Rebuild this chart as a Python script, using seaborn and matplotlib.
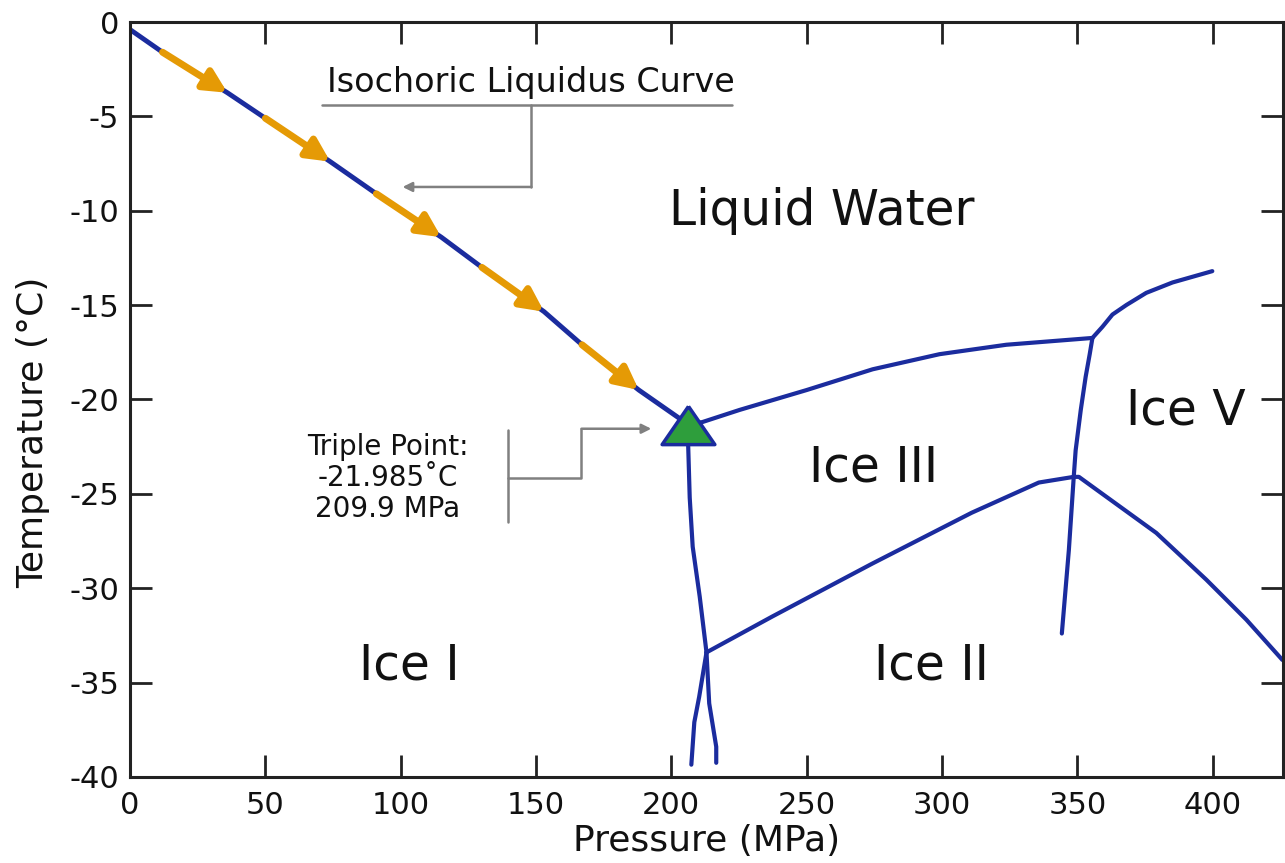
import matplotlib
matplotlib.use('Agg')
from matplotlib import pyplot as plt
import seaborn as sns

# ice I / liquid boundary (the isochoric liquidus)
liq_p = [0, 12, 36, 50, 74, 91, 115, 130, 153, 167, 188, 206]
liq_t = [-0.4, -1.6, -3.75, -5.1, -7.4, -9.1, -11.4, -13.0, -15.35, -17.1, -19.5, -21.3]

# orange isochoric arrows: start and tip on the liquidus
arrow_p0 = [12, 50, 91, 130, 167]
arrow_t0 = [-1.6, -5.1, -9.1, -13.0, -17.1]
arrow_p1 = [36, 74, 115, 153, 188]
arrow_t1 = [-3.75, -7.4, -11.4, -15.35, -19.5]

# other phase boundaries
iii_liq_p = [206, 211.4, 225.3, 250, 274.4, 299.1, 323.8, 355.6]
iii_liq_t = [-21.3, -21.2, -20.55, -19.5, -18.4, -17.6, -17.1, -16.74]

v_liq_p = [355.6, 359.3, 363, 368.2, 375.5, 385.2, 399.9]
v_liq_t = [-16.74, -16.15, -15.5, -14.99, -14.35, -13.8, -13.2]

i_iii_p = [206, 206.8, 207.9, 210.5, 213]
i_iii_t = [-21.3, -25.2, -27.8, -30.45, -33.4]

i_ii_p = [213, 210.3, 208.5, 207.4]
i_ii_t = [-33.4, -35.75, -37.1, -39.35]

ii_x_p = [213, 214, 216.6, 216.6]
ii_x_t = [-33.4, -36.1, -38.4, -39.25]

iii_v_p = [355.6, 354.6, 353.1, 351.3, 349.4, 348.7, 346.9, 344.3]
iii_v_t = [-16.74, -17.6, -18.8, -20.55, -22.7, -24.1, -27.97, -32.4]

ii_iii_p = [213, 237.3, 274.2, 311, 335.8, 348.7]
ii_iii_t = [-33.4, -31.5, -28.7, -26.0, -24.4, -24.1]

ii_v_p = [348.7, 350.6, 360.8, 379.2, 397.7, 412.5, 425.8]
ii_v_t = [-24.1, -24.1, -25.16, -27.07, -29.55, -31.67, -33.8]

triple_p = 206
triple_t = -21.35

region_names = ['Liquid Water', 'Ice III', 'Ice II', 'Ice I', 'Ice V']
region_p = [255.7, 274.9, 296.1, 103.3, 390.2]
region_t = [-10.75, -24.36, -34.85, -34.85, -21.35]

xticks = [0, 50, 100, 150, 200, 250, 300, 350, 400]
yticks = [0, -5, -10, -15, -20, -25, -30, -35, -40]

blue = '#1b2c9e'
orange = '#e59a05'
green = '#2e9e3c'
grey = '#808080'

sns.set_theme(style='ticks')
plt.rcParams['font.family'] = ['DejaVu Sans']
plt.rcParams['axes.unicode_minus'] = False

fig = plt.figure(figsize=(12.85, 8.63), dpi=100)
ax = fig.add_axes([0.1012, 0.0997, 0.8972, 0.8748])

curves = [(iii_liq_p, iii_liq_t), (v_liq_p, v_liq_t), (i_iii_p, i_iii_t),
          (i_ii_p, i_ii_t), (ii_x_p, ii_x_t), (iii_v_p, iii_v_t),
          (ii_iii_p, ii_iii_t), (ii_v_p, ii_v_t)]
for px, ty in curves:
    sns.lineplot(x=px, y=ty, sort=False, estimator=None, color=blue,
                 lw=3, ax=ax, solid_capstyle='round', solid_joinstyle='round')

sns.lineplot(x=liq_p, y=liq_t, sort=False, estimator=None, color=blue,
             lw=3.5, ax=ax)

for p0, t0, p1, t1 in zip(arrow_p0, arrow_t0, arrow_p1, arrow_t1):
    ax.annotate('', xy=(p1, t1), xytext=(p0, t0),
                arrowprops=dict(arrowstyle='-|>', color=orange, lw=5,
                                mutation_scale=34, shrinkA=0, shrinkB=0))

# triple point marker (slightly flattened triangle)
tri = [(0, 1), (-1.38, -1), (1.38, -1), (0, 1)]
ax.plot([triple_p], [triple_t], marker=tri, ms=38, color=green,
        markeredgecolor=blue, markeredgewidth=2.5, zorder=5)

for name, p, t in zip(region_names, region_p, region_t):
    ax.text(p, t, name, fontsize=35, ha='center', va='baseline', color='#111111')

# isochoric liquidus annotation
ax.text(148, -3.71, 'Isochoric Liquidus Curve', fontsize=24, ha='center',
        va='baseline', color='#111111')
ax.plot([70.8, 222.5], [-4.4, -4.4], color=grey, lw=1.8)
ax.plot([148.3, 148.3], [-4.4, -8.74], color=grey, lw=1.8)
ax.annotate('', xy=(100.7, -8.74), xytext=(148.3, -8.74),
            arrowprops=dict(arrowstyle='-|>', color=grey, lw=1.8,
                            mutation_scale=14, shrinkA=0, shrinkB=0))

# triple point annotation
ax.text(95.3, -24.15, 'Triple Point:\n-21.985\u02daC\n209.9 MPa', fontsize=20,
        ha='center', va='center', multialignment='center', color='#111111',
        linespacing=1.15)
ax.plot([139.5, 139.5], [-21.6, -26.5], color=grey, lw=1.8)
ax.plot([139.5, 166.8, 166.8], [-24.15, -24.15, -21.55], color=grey, lw=1.8)
ax.annotate('', xy=(192.6, -21.55), xytext=(166.8, -21.55),
            arrowprops=dict(arrowstyle='-|>', color=grey, lw=1.8,
                            mutation_scale=14, shrinkA=0, shrinkB=0))

ax.set_xlim(0, 426)
ax.set_ylim(-40, 0)
ax.set_xticks(xticks)
ax.set_yticks(yticks)
ax.set_xticklabels([str(v) for v in xticks])
ax.set_yticklabels([str(v) for v in yticks])
ax.tick_params(direction='in', top=True, right=True, length=16, width=2,
               labelsize=22, colors='#222222', labelcolor='#111111')
ax.tick_params(axis='y', pad=8)
ax.tick_params(axis='x', pad=10)
for s in ax.spines.values():
    s.set_linewidth(2.2)
    s.set_color('#222222')

ax.set_xlabel('Pressure (MPa)', fontsize=26, labelpad=3, color='#111111')
ax.set_ylabel('Temperature (\u00b0C)', fontsize=26, color='#111111')
ax.yaxis.set_label_coords(-0.0694, 0.456)

fig.savefig('out.png', dpi=100)
